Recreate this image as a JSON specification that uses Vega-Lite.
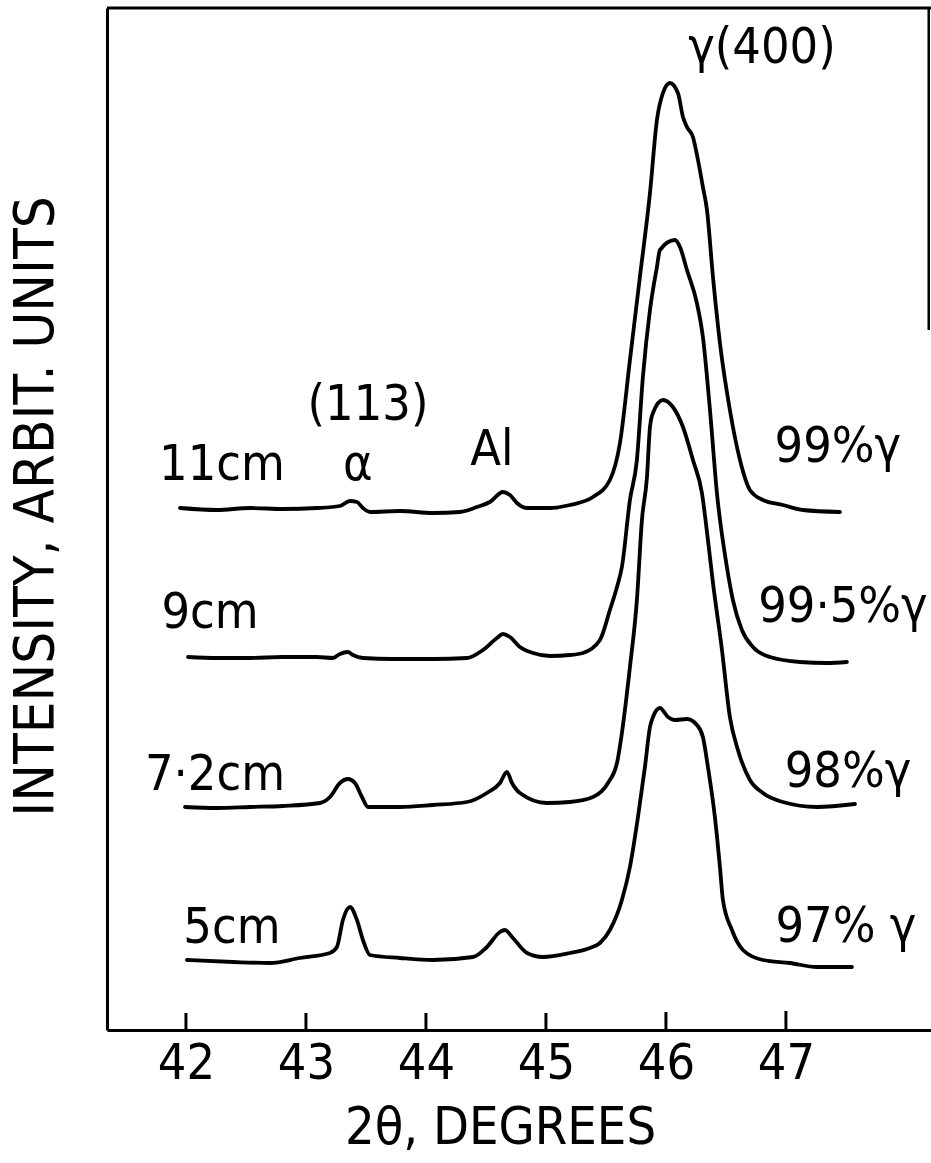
{
  "$schema": "https://vega.github.io/schema/vega-lite/v6.json",
  "width": 824,
  "height": 1022,
  "autosize": {"type": "none"},
  "padding": {"left": 107, "top": 8, "right": 0, "bottom": 133},
  "background": "white",
  "config": {
    "view": {"stroke": null},
    "font": "Liberation Sans Narrow, DejaVu Sans Condensed, sans-serif"
  },
  "datasets": {
    "traces": [
      {"s": "11cm", "x": 41.950, "y": 522}, {"s": "11cm", "x": 42.258, "y": 520}, {"s": "11cm", "x": 42.533, "y": 522},
      {"s": "11cm", "x": 42.808, "y": 521}, {"s": "11cm", "x": 43.092, "y": 522}, {"s": "11cm", "x": 43.283, "y": 524},
      {"s": "11cm", "x": 43.367, "y": 529}, {"s": "11cm", "x": 43.425, "y": 528}, {"s": "11cm", "x": 43.475, "y": 522},
      {"s": "11cm", "x": 43.533, "y": 518}, {"s": "11cm", "x": 43.783, "y": 519}, {"s": "11cm", "x": 44.058, "y": 517},
      {"s": "11cm", "x": 44.283, "y": 518}, {"s": "11cm", "x": 44.425, "y": 523}, {"s": "11cm", "x": 44.533, "y": 528},
      {"s": "11cm", "x": 44.642, "y": 538}, {"s": "11cm", "x": 44.700, "y": 535}, {"s": "11cm", "x": 44.758, "y": 527},
      {"s": "11cm", "x": 44.842, "y": 522}, {"s": "11cm", "x": 45.033, "y": 522}, {"s": "11cm", "x": 45.200, "y": 525},
      {"s": "11cm", "x": 45.392, "y": 533}, {"s": "11cm", "x": 45.533, "y": 550}, {"s": "11cm", "x": 45.617, "y": 587},
      {"s": "11cm", "x": 45.700, "y": 670}, {"s": "11cm", "x": 45.783, "y": 753}, {"s": "11cm", "x": 45.867, "y": 837},
      {"s": "11cm", "x": 45.925, "y": 910}, {"s": "11cm", "x": 45.975, "y": 937}, {"s": "11cm", "x": 46.033, "y": 947},
      {"s": "11cm", "x": 46.100, "y": 937}, {"s": "11cm", "x": 46.142, "y": 913}, {"s": "11cm", "x": 46.175, "y": 903},
      {"s": "11cm", "x": 46.225, "y": 893}, {"s": "11cm", "x": 46.267, "y": 870}, {"s": "11cm", "x": 46.308, "y": 843},
      {"s": "11cm", "x": 46.342, "y": 820}, {"s": "11cm", "x": 46.392, "y": 753}, {"s": "11cm", "x": 46.450, "y": 687},
      {"s": "11cm", "x": 46.533, "y": 620}, {"s": "11cm", "x": 46.617, "y": 570}, {"s": "11cm", "x": 46.700, "y": 540},
      {"s": "11cm", "x": 46.808, "y": 530}, {"s": "11cm", "x": 46.975, "y": 525}, {"s": "11cm", "x": 47.142, "y": 520},
      {"s": "11cm", "x": 47.450, "y": 518},

      {"s": "9cm", "x": 42.017, "y": 373}, {"s": "9cm", "x": 42.258, "y": 372}, {"s": "9cm", "x": 42.533, "y": 372},
      {"s": "9cm", "x": 42.808, "y": 373}, {"s": "9cm", "x": 43.092, "y": 373}, {"s": "9cm", "x": 43.225, "y": 372},
      {"s": "9cm", "x": 43.283, "y": 376}, {"s": "9cm", "x": 43.350, "y": 378}, {"s": "9cm", "x": 43.392, "y": 375},
      {"s": "9cm", "x": 43.475, "y": 372}, {"s": "9cm", "x": 43.725, "y": 371}, {"s": "9cm", "x": 44.058, "y": 371},
      {"s": "9cm", "x": 44.342, "y": 372}, {"s": "9cm", "x": 44.475, "y": 380}, {"s": "9cm", "x": 44.592, "y": 392},
      {"s": "9cm", "x": 44.642, "y": 396}, {"s": "9cm", "x": 44.700, "y": 393}, {"s": "9cm", "x": 44.783, "y": 383},
      {"s": "9cm", "x": 44.892, "y": 377}, {"s": "9cm", "x": 45.033, "y": 374}, {"s": "9cm", "x": 45.200, "y": 375},
      {"s": "9cm", "x": 45.308, "y": 377}, {"s": "9cm", "x": 45.450, "y": 390}, {"s": "9cm", "x": 45.533, "y": 420},
      {"s": "9cm", "x": 45.592, "y": 443}, {"s": "9cm", "x": 45.633, "y": 463}, {"s": "9cm", "x": 45.700, "y": 530},
      {"s": "9cm", "x": 45.758, "y": 570}, {"s": "9cm", "x": 45.808, "y": 653}, {"s": "9cm", "x": 45.867, "y": 720},
      {"s": "9cm", "x": 45.925, "y": 763}, {"s": "9cm", "x": 45.950, "y": 780}, {"s": "9cm", "x": 46.075, "y": 790},
      {"s": "9cm", "x": 46.117, "y": 783}, {"s": "9cm", "x": 46.175, "y": 760}, {"s": "9cm", "x": 46.258, "y": 727},
      {"s": "9cm", "x": 46.308, "y": 693}, {"s": "9cm", "x": 46.367, "y": 620}, {"s": "9cm", "x": 46.425, "y": 537},
      {"s": "9cm", "x": 46.508, "y": 463}, {"s": "9cm", "x": 46.558, "y": 430}, {"s": "9cm", "x": 46.633, "y": 400},
      {"s": "9cm", "x": 46.725, "y": 383}, {"s": "9cm", "x": 46.867, "y": 373}, {"s": "9cm", "x": 47.117, "y": 368},
      {"s": "9cm", "x": 47.342, "y": 367}, {"s": "9cm", "x": 47.508, "y": 368},

      {"s": "7.2cm", "x": 41.992, "y": 223}, {"s": "7.2cm", "x": 42.258, "y": 222}, {"s": "7.2cm", "x": 42.533, "y": 223},
      {"s": "7.2cm", "x": 42.808, "y": 224}, {"s": "7.2cm", "x": 43.117, "y": 227}, {"s": "7.2cm", "x": 43.200, "y": 233},
      {"s": "7.2cm", "x": 43.283, "y": 247}, {"s": "7.2cm", "x": 43.350, "y": 251}, {"s": "7.2cm", "x": 43.408, "y": 247},
      {"s": "7.2cm", "x": 43.467, "y": 233}, {"s": "7.2cm", "x": 43.517, "y": 223}, {"s": "7.2cm", "x": 43.783, "y": 223},
      {"s": "7.2cm", "x": 44.058, "y": 225}, {"s": "7.2cm", "x": 44.342, "y": 228}, {"s": "7.2cm", "x": 44.508, "y": 237},
      {"s": "7.2cm", "x": 44.617, "y": 247}, {"s": "7.2cm", "x": 44.675, "y": 258}, {"s": "7.2cm", "x": 44.717, "y": 247},
      {"s": "7.2cm", "x": 44.783, "y": 237}, {"s": "7.2cm", "x": 45.008, "y": 227}, {"s": "7.2cm", "x": 45.200, "y": 228},
      {"s": "7.2cm", "x": 45.392, "y": 233}, {"s": "7.2cm", "x": 45.517, "y": 247}, {"s": "7.2cm", "x": 45.592, "y": 267},
      {"s": "7.2cm", "x": 45.633, "y": 297}, {"s": "7.2cm", "x": 45.700, "y": 363}, {"s": "7.2cm", "x": 45.758, "y": 430},
      {"s": "7.2cm", "x": 45.800, "y": 510}, {"s": "7.2cm", "x": 45.842, "y": 553}, {"s": "7.2cm", "x": 45.867, "y": 603},
      {"s": "7.2cm", "x": 45.892, "y": 617}, {"s": "7.2cm", "x": 45.975, "y": 630}, {"s": "7.2cm", "x": 46.058, "y": 623},
      {"s": "7.2cm", "x": 46.142, "y": 603}, {"s": "7.2cm", "x": 46.225, "y": 570}, {"s": "7.2cm", "x": 46.300, "y": 537},
      {"s": "7.2cm", "x": 46.350, "y": 490}, {"s": "7.2cm", "x": 46.392, "y": 447}, {"s": "7.2cm", "x": 46.467, "y": 380},
      {"s": "7.2cm", "x": 46.533, "y": 313}, {"s": "7.2cm", "x": 46.600, "y": 280}, {"s": "7.2cm", "x": 46.700, "y": 250},
      {"s": "7.2cm", "x": 46.808, "y": 237}, {"s": "7.2cm", "x": 46.975, "y": 228}, {"s": "7.2cm", "x": 47.258, "y": 223},
      {"s": "7.2cm", "x": 47.575, "y": 226},

      {"s": "5cm", "x": 42.008, "y": 70}, {"s": "5cm", "x": 42.392, "y": 68}, {"s": "5cm", "x": 42.700, "y": 67},
      {"s": "5cm", "x": 42.950, "y": 72}, {"s": "5cm", "x": 43.200, "y": 77}, {"s": "5cm", "x": 43.258, "y": 83},
      {"s": "5cm", "x": 43.308, "y": 110}, {"s": "5cm", "x": 43.367, "y": 123}, {"s": "5cm", "x": 43.425, "y": 110},
      {"s": "5cm", "x": 43.475, "y": 90}, {"s": "5cm", "x": 43.533, "y": 75}, {"s": "5cm", "x": 43.783, "y": 72},
      {"s": "5cm", "x": 44.058, "y": 70}, {"s": "5cm", "x": 44.392, "y": 73}, {"s": "5cm", "x": 44.508, "y": 83},
      {"s": "5cm", "x": 44.617, "y": 98}, {"s": "5cm", "x": 44.658, "y": 100}, {"s": "5cm", "x": 44.725, "y": 92},
      {"s": "5cm", "x": 44.842, "y": 77}, {"s": "5cm", "x": 44.975, "y": 73}, {"s": "5cm", "x": 45.200, "y": 77},
      {"s": "5cm", "x": 45.367, "y": 82}, {"s": "5cm", "x": 45.450, "y": 87}, {"s": "5cm", "x": 45.533, "y": 100},
      {"s": "5cm", "x": 45.633, "y": 130}, {"s": "5cm", "x": 45.700, "y": 163}, {"s": "5cm", "x": 45.767, "y": 213},
      {"s": "5cm", "x": 45.825, "y": 263}, {"s": "5cm", "x": 45.867, "y": 303}, {"s": "5cm", "x": 45.892, "y": 313},
      {"s": "5cm", "x": 45.950, "y": 322}, {"s": "5cm", "x": 46.017, "y": 313}, {"s": "5cm", "x": 46.075, "y": 310},
      {"s": "5cm", "x": 46.175, "y": 311}, {"s": "5cm", "x": 46.258, "y": 305}, {"s": "5cm", "x": 46.308, "y": 293},
      {"s": "5cm", "x": 46.350, "y": 263}, {"s": "5cm", "x": 46.408, "y": 213}, {"s": "5cm", "x": 46.450, "y": 163},
      {"s": "5cm", "x": 46.475, "y": 130}, {"s": "5cm", "x": 46.550, "y": 100}, {"s": "5cm", "x": 46.642, "y": 80},
      {"s": "5cm", "x": 46.808, "y": 70}, {"s": "5cm", "x": 47.033, "y": 67}, {"s": "5cm", "x": 47.258, "y": 63},
      {"s": "5cm", "x": 47.550, "y": 63}
    ],
    "labels": [
      {"x": 42.3, "y": 565, "t": "11cm"},
      {"x": 42.2, "y": 417, "t": "9cm"},
      {"x": 42.242, "y": 255, "t": "7·2cm"},
      {"x": 42.383, "y": 102, "t": "5cm"},
      {"x": 43.517, "y": 625, "t": "(113)"},
      {"x": 43.433, "y": 565, "t": "α"},
      {"x": 44.55, "y": 580, "t": "Al"},
      {"x": 47.433, "y": 583, "t": "99%γ"},
      {"x": 47.475, "y": 423, "t": "99·5%γ"},
      {"x": 47.517, "y": 258, "t": "98%γ"},
      {"x": 47.5, "y": 103, "t": "97% γ"},
      {"x": 46.8, "y": 982, "t": "γ(400)"}
    ],
    "ticks": [
      {"x": 42, "y0": 0, "y1": 17}, {"x": 43, "y0": 0, "y1": 17}, {"x": 44, "y0": 0, "y1": 17},
      {"x": 45, "y0": 0, "y1": 17}, {"x": 46, "y0": 0, "y1": 18}, {"x": 47, "y0": 0, "y1": 19}
    ]
  },
  "layer": [
    {
      "data": {"name": "traces"},
      "mark": {"type": "line", "color": "black", "strokeWidth": 3.8, "interpolate": "monotone", "strokeCap": "round", "strokeJoin": "round"},
      "encoding": {
        "x": {
          "field": "x", "type": "quantitative",
          "scale": {"domain": [41.342, 48.209], "nice": false, "zero": false},
          "axis": {
            "values": [42, 43, 44, 45, 46, 47],
            "format": "d",
            "title": "2θ, DEGREES",
            "grid": false, "ticks": false,
            "domainColor": "black", "domainWidth": 3,
            "labelFontSize": 50, "labelColor": "black", "labelPadding": 8,
            "labelFlush": false,
            "titleFontSize": 52, "titleFontWeight": "normal", "titleColor": "black",
            "titleX": 393, "titleY": 97, "titleBaseline": "middle", "titleAlign": "center"
          }
        },
        "y": {
          "field": "y", "type": "quantitative",
          "scale": {"domain": [0, 1022], "nice": false},
          "axis": {
            "title": "INTENSITY, ARBIT. UNITS",
            "grid": false, "ticks": false, "labels": false,
            "domainColor": "black", "domainWidth": 3,
            "titleFontSize": 56, "titleFontWeight": "normal", "titleColor": "black",
            "titleAngle": -90, "titleX": -72, "titleY": 498, "titleBaseline": "middle", "titleAlign": "center"
          }
        },
        "detail": {"field": "s"}
      }
    },
    {
      "data": {"name": "ticks"},
      "mark": {"type": "rule", "color": "black", "strokeWidth": 3},
      "encoding": {
        "x": {"field": "x", "type": "quantitative"},
        "y": {"field": "y0", "type": "quantitative"},
        "y2": {"field": "y1"}
      }
    },
    {
      "data": {"values": [{"a": 41.342, "b": 48.209, "y": 1022}]},
      "mark": {"type": "rule", "color": "black", "strokeWidth": 3},
      "encoding": {
        "x": {"field": "a", "type": "quantitative"},
        "x2": {"field": "b"},
        "y": {"field": "y", "type": "quantitative"}
      }
    },
    {
      "data": {"values": [{"x": 48.19, "y1": 700, "y2": 1022}]},
      "mark": {"type": "rule", "color": "black", "strokeWidth": 2.5},
      "encoding": {
        "x": {"field": "x", "type": "quantitative"},
        "y": {"field": "y1", "type": "quantitative"},
        "y2": {"field": "y2"}
      }
    },
    {
      "data": {"name": "labels"},
      "mark": {"type": "text", "fontSize": 50, "color": "black", "align": "center", "baseline": "middle"},
      "encoding": {
        "x": {"field": "x", "type": "quantitative"},
        "y": {"field": "y", "type": "quantitative"},
        "text": {"field": "t"}
      }
    }
  ]
}
